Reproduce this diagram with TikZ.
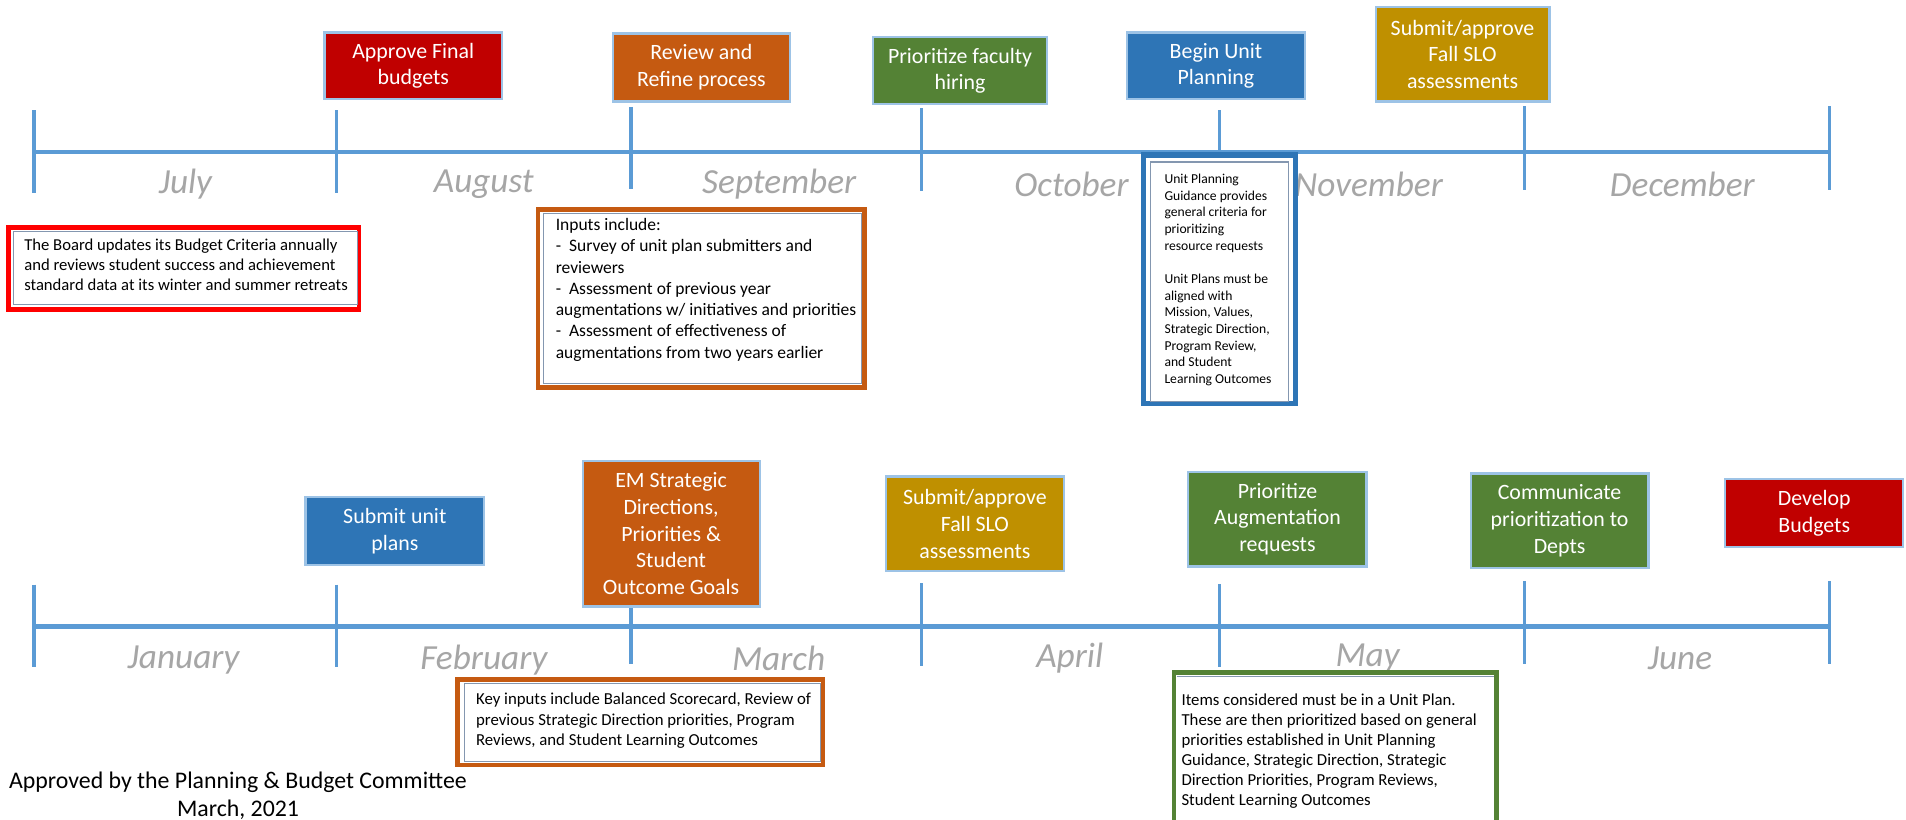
\documentclass[tikz,border=0pt]{standalone}
\usepackage{fontspec}
\setmainfont{Carlito}
\definecolor{tl}{HTML}{5B9BD5}
\definecolor{mon}{HTML}{A6A6A6}
\definecolor{cred}{HTML}{C00000}
\definecolor{corange}{HTML}{C55A11}
\definecolor{cgreen}{HTML}{548235}
\definecolor{cblue}{HTML}{2E75B6}
\definecolor{cgold}{HTML}{BF9000}
\definecolor{bbord}{HTML}{9DC3E6}
\definecolor{innerc}{HTML}{8497B0}
\definecolor{nred}{HTML}{FF0000}
\tikzset{
  tline/.style={draw=tl, line width=4pt},
  tickline/.style={draw=tl, line width=2.8pt},
  month/.style={text=mon, font=\fontsize{29}{33}\selectfont\itshape, inner sep=0pt},
  evbox/.style={rectangle, draw=bbord, line width=1.8pt, text=white, align=center,
    font=\fontsize{18}{22}\selectfont, inner sep=0pt},
  notebox/.style={rectangle, fill=white, line width=3.8pt, inner sep=0pt},
  noteinner/.style={draw=innerc, line width=0.9pt},
  notetext/.style={anchor=north west, align=left, inner sep=0pt, text=black},
}
\begin{document}
\begin{tikzpicture}[x=1pt,y=-1pt]
\useasboundingbox[fill=white] (0,0) rectangle (1568,674);

% ---------- top timeline ----------
\foreach \n/\x/\ya/\yb in {0/28/90.5/159,1/277/90.5/159,2/519/88/155.5,3/758/89/157.5,4/1003/90.5/124,5/1254/87.5/156,6/1505/87.5/156}{
  \coordinate (ta\n) at (\x,\ya);
  \coordinate (tb\n) at (\x,\yb);
  \coordinate (tm\n) at (\x,125);
}
\draw[tline] (tm0) -- (tm6);
\foreach \n in {0,...,6}{ \draw[tickline] (ta\n) -- (tb\n); }

\node[month] (m1) at (152.5,151.5) {July};
\node[month] (m2) at (398,151.5) {August};
\node[month] (m3) at (641,151.5) {September};
\node[month] (m4) at (881.5,151.5) {October};
\node[month] (m5) at (1126,151.5) {November};
\node[month] (m6) at (1384,151.5) {December};

% ---------- bottom timeline ----------
\foreach \n/\x/\ya/\yb in {0/28/481/549,1/277/481/549,2/519/499/546,3/758/480/548,4/1003/480.5/549,5/1254/478/546.5,6/1505/478/546.5}{
  \coordinate (ba\n) at (\x,\ya);
  \coordinate (bb\n) at (\x,\yb);
  \coordinate (bm\n) at (\x,515.5);
}
\draw[tline] (bm0) -- (bm6);
\foreach \n in {0,...,6}{ \draw[tickline] (ba\n) -- (bb\n); }

\node[month] (j1) at (151,543) {January};
\node[month] (j2) at (398,543) {February};
\node[month] (j3) at (640.5,541.5) {March};
\node[month] (j4) at (880,541.5) {April};
\node[month] (j5) at (1125,541.5) {May};
\node[month] (j6) at (1382,541.5) {June};

% ---------- top event boxes ----------
\node[evbox, fill=cred, minimum width=146, minimum height=55] (b1) at (340,54.2) {Approve Final\\budgets};
\node[evbox, fill=corange, minimum width=146, minimum height=56] (b2) at (577,55.5) {Review and\\Refine process};
\node[evbox, fill=cgreen, minimum width=143, minimum height=55] (b3) at (789.8,58.2) {Prioritize faculty\\hiring};
\node[evbox, fill=cblue, minimum width=146, minimum height=55] (b4) at (1000.3,54.2) {Begin Unit\\Planning};
\node[evbox, fill=cgold, minimum width=143, minimum height=77.5] (b5) at (1203.2,44.8) {Submit/approve\\Fall SLO\\assessments};

% ---------- bottom event boxes ----------
\node[evbox, fill=cblue, minimum width=147, minimum height=56] (c1) at (324.8,436.7) {Submit unit\\plans};
\node[evbox, fill=corange, minimum width=145.6, minimum height=120] (c2) at (552.1,439) {EM Strategic\\Directions,\\Priorities \&\\Student\\Outcome Goals};
\node[evbox, fill=cgold, minimum width=146, minimum height=78] (c3) at (802,431) {Submit/approve\\Fall SLO\\assessments};
\node[evbox, fill=cgreen, minimum width=146.6, minimum height=78] (c4) at (1050.9,427.1) {Prioritize\\Augmentation\\requests};
\node[evbox, fill=cgreen, minimum width=146.2, minimum height=78] (c5) at (1283,428.5) {Communicate\\prioritization to\\Depts};
\node[evbox, fill=cred, minimum width=146.2, minimum height=55.4] (c6) at (1492.5,422) {Develop\\Budgets};

% ---------- notes ----------
\node[notebox, draw=nred, minimum width=288.6, minimum height=67.2] (n1) at (151.1,220.9) {};
\draw[noteinner] ([shift={(6,5)}]n1.north west) rectangle ([shift={(-3,-6)}]n1.south east);
\node[notetext, font=\fontsize{13.7}{16.5}\selectfont] (n1t) at (19.8,196.5)
  {The Board updates its Budget Criteria annually\\and reviews student success and achievement\\standard data at its winter and summer retreats};

\node[notebox, draw=corange, minimum width=268.3, minimum height=146.7] (n2) at (576.85,245.55) {};
\draw[noteinner] ([shift={(6,5)}]n2.north west) rectangle ([shift={(-4,-5)}]n2.south east);
\node[notetext, font=\fontsize{14.4}{17.5}\selectfont] (n2t) at (457,179.5)
  {Inputs include:\\-\ \ Survey of unit plan submitters and\\reviewers\\-\ \ Assessment of previous year\\augmentations w/ initiatives and priorities\\-\ \ Assessment of effectiveness of\\augmentations from two years earlier};

\node[notebox, draw=cblue, line width=4.5pt, minimum width=124.8, minimum height=204.3] (n3) at (1003.3,229.65) {};
\draw[noteinner] ([shift={(8,8)}]n3.north west) rectangle ([shift={(-8,-4)}]n3.south east);
\node[notetext, font=\fontsize{11.2}{13.7}\selectfont] (n3t) at (957.8,143)
  {Unit Planning\\Guidance provides\\general criteria for\\prioritizing\\resource requests\\[13.7pt]Unit Plans must be\\aligned with\\Mission, Values,\\Strategic Direction,\\Program Review,\\and Student\\Learning Outcomes};

\node[notebox, draw=corange, minimum width=301, minimum height=70.5] (n4) at (526.7,594.05) {};
\draw[noteinner] ([shift={(7.5,5.5)}]n4.north west) rectangle ([shift={(-4,-4.6)}]n4.south east);
\node[notetext, font=\fontsize{13.8}{16.9}\selectfont] (n4t) at (391.5,570)
  {Key inputs include Balanced Scorecard, Review of\\previous Strategic Direction priorities, Program\\Reviews, and Student Learning Outcomes};

\node[notebox, draw=cgreen, minimum width=265, minimum height=130] (n5) at (1098.4,618.4) {};
\draw[noteinner] ([shift={(4,5)}]n5.north west) -- ([shift={(-4,5)}]n5.north east);
\node[notetext, font=\fontsize{13.8}{16.45}\selectfont] (n5t) at (971.8,571)
  {Items considered must be in a Unit Plan.\\These are then prioritized based on general\\priorities established in Unit Planning\\Guidance, Strategic Direction, Strategic\\Direction Priorities, Program Reviews,\\Student Learning Outcomes};

% ---------- footer ----------
\node[align=center, inner sep=0pt, font=\fontsize{19.6}{22.7}\selectfont] (foot) at (195.8,654.4)
  {Approved by the Planning \& Budget Committee\\March, 2021};
\end{tikzpicture}
\end{document}
